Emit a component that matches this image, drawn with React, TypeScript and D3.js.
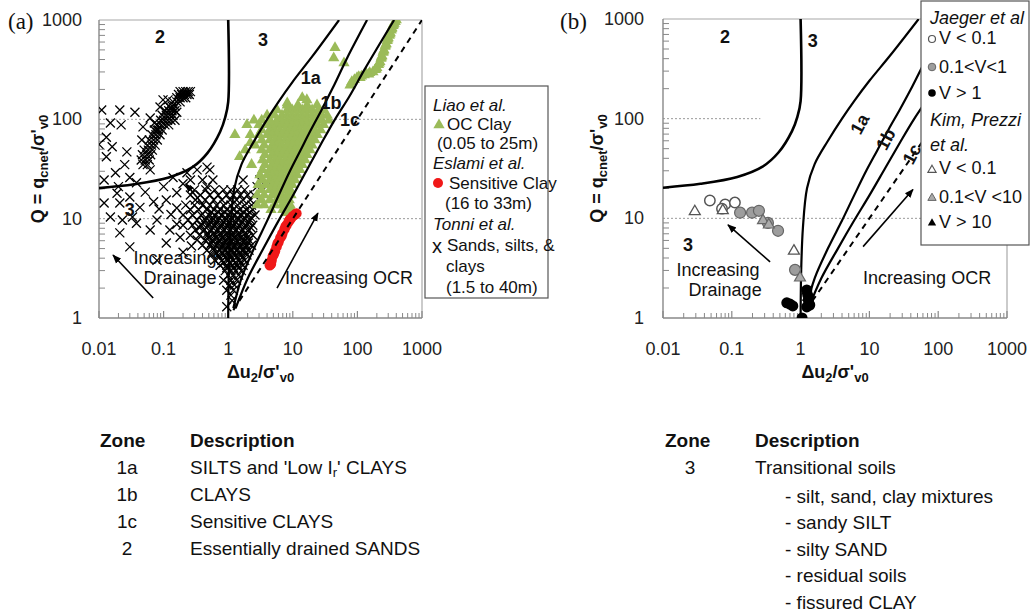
import React from "react";
import * as d3 from "d3";

type Pt = [number, number];
type Row = [number, number[]]; // [Q, list of Δu2/σ'v0 values read along that Q level]

const FONT = "'Liberation Sans', Arial, Helvetica, sans-serif";

// ---------- Panel (a) data: [Δu2/σ'v0, Q] ----------
// Tonni et al. — scattered points
const tonniScatter: Pt[] = [
  [0.011, 124], [0.015, 92], [0.022, 88], [0.013, 66], [0.016, 53], [0.027, 47], [0.013, 42],
  [0.018, 29], [0.03, 26], [0.038, 23], [0.048, 84], [0.079, 78], [0.046, 62], [0.098, 157],
  [0.117, 157], [0.088, 133], [0.062, 103], [0.036, 118], [0.021, 124], [0.01, 56], [0.025, 35],
  [0.062, 31], [0.012, 24.5], [0.02, 21], [0.15, 98], [0.13, 130], [0.16, 118], [0.072, 92],
  [0.012, 14.4], [0.021, 14.4], [0.03, 16.5], [0.015, 10.4], [0.023, 9.7], [0.033, 10.4],
  [0.043, 13], [0.021, 7.2], [0.03, 5.2], [0.038, 9.0], [0.062, 7.7], [0.079, 9.7], [0.11, 15.4],
  [0.16, 18.2], [0.14, 26], [0.23, 29], [0.33, 31], [0.47, 33], [0.58, 24.5], [0.26, 24.5],
  [0.47, 21], [0.11, 5.7], [0.18, 6.5], [0.125, 7.7], [0.079, 3.8], [0.019, 18], [0.052, 18.5],
  [0.085, 12.5], [0.1, 21], [0.13, 11], [0.16, 8.8], [0.2, 22.5], [0.4, 24.5], [0.52, 31],
  [1.7, 24.5], [3.1, 24.5], [3.9, 21], [2.8, 21], [1.15, 1.5], [0.95, 1.3], [0.2, 4.6],
  [0.27, 5.3], [0.16, 12.8], [0.07, 14.8],
];
// Tonni et al. — dense band in zone 2 (read level by level)
const tonniZone2Rows: Row[] = [
  [190, [0.18, 0.2, 0.22, 0.24, 0.26]],
  [178, [0.17, 0.19, 0.21, 0.23, 0.25]],
  [165, [0.16, 0.18, 0.2, 0.22]],
  [150, [0.14, 0.16, 0.18]],
  [136, [0.12, 0.135, 0.15]],
  [122, [0.105, 0.12, 0.135, 0.15]],
  [110, [0.095, 0.11, 0.125, 0.14]],
  [98, [0.09, 0.1, 0.115, 0.13]],
  [88, [0.08, 0.092, 0.105, 0.12]],
  [78, [0.072, 0.083, 0.095]],
  [70, [0.066, 0.076, 0.088]],
  [62, [0.06, 0.07, 0.08]],
  [55, [0.056, 0.065, 0.074]],
  [49, [0.05, 0.058, 0.067]],
  [44, [0.047, 0.055, 0.063]],
  [39, [0.045, 0.052, 0.06]],
  [35, [0.048, 0.056]],
];
// Tonni et al. — dense cluster around Δu2/σ'v0 ≈ 1
const tonniCoreRows: Row[] = [
  [19.5, [0.3, 0.45, 0.62, 0.85, 1.1, 1.4, 1.8]],
  [17.3, [0.26, 0.37, 0.52, 0.7, 0.95, 1.2, 1.55, 2.0, 2.5]],
  [15.4, [0.31, 0.44, 0.6, 0.8, 1.07, 1.35, 1.7, 2.2]],
  [13.7, [0.22, 0.3, 0.4, 0.52, 0.66, 0.85, 1.1, 1.4, 1.8, 2.3]],
  [12.3, [0.26, 0.35, 0.47, 0.6, 0.75, 0.95, 1.2, 1.5, 1.9, 2.4]],
  [11.6, [0.55, 0.7, 0.88, 1.1, 1.38, 1.72, 2.15]],
  [10.9, [0.2, 0.28, 0.38, 0.5, 0.62, 0.8, 1.0, 1.25, 1.6, 2.0, 2.6]],
  [10.3, [0.45, 0.57, 0.72, 0.9, 1.12, 1.4, 1.78, 2.25]],
  [9.7, [0.24, 0.33, 0.44, 0.56, 0.7, 0.9, 1.1, 1.4, 1.75, 2.2]],
  [9.2, [0.42, 0.53, 0.66, 0.84, 1.05, 1.3, 1.62, 2.05]],
  [8.6, [0.2, 0.28, 0.38, 0.5, 0.62, 0.78, 0.98, 1.2, 1.5, 1.9, 2.4]],
  [8.1, [0.36, 0.46, 0.58, 0.74, 0.92, 1.15, 1.42, 1.8, 2.25]],
  [7.7, [0.31, 0.42, 0.55, 0.7, 0.88, 1.1, 1.35, 1.7, 2.1]],
  [7.2, [0.48, 0.6, 0.76, 0.95, 1.18, 1.46, 1.85]],
  [6.8, [0.26, 0.36, 0.48, 0.62, 0.78, 0.98, 1.2, 1.5, 1.9, 2.4]],
  [6.4, [0.5, 0.64, 0.8, 1.0, 1.25, 1.55, 1.95]],
  [6.1, [0.33, 0.44, 0.57, 0.72, 0.9, 1.1, 1.35, 1.7, 2.1]],
  [5.7, [0.55, 0.7, 0.88, 1.08, 1.35, 1.7, 2.05]],
  [5.4, [0.4, 0.52, 0.66, 0.82, 1.0, 1.25, 1.55, 1.9, 2.3]],
  [5.1, [0.6, 0.78, 0.97, 1.2, 1.5, 1.85]],
  [4.8, [0.47, 0.6, 0.75, 0.92, 1.15, 1.4, 1.75, 2.1]],
  [4.55, [0.65, 0.82, 1.0, 1.22, 1.5, 1.85]],
  [4.3, [0.55, 0.7, 0.86, 1.05, 1.3, 1.6, 1.95]],
  [4.05, [0.72, 0.9, 1.1, 1.35, 1.65]],
  [3.8, [0.62, 0.8, 1.0, 1.2, 1.5, 1.8]],
  [3.6, [0.85, 1.05, 1.3, 1.55]],
  [3.4, [0.75, 0.95, 1.15, 1.4, 1.7]],
  [3.2, [0.95, 1.2, 1.45]],
  [3.0, [0.9, 1.1, 1.3, 1.6]],
  [2.7, [1.0, 1.2, 1.45]],
  [2.4, [0.85, 1.1, 1.35]],
  [2.15, [1.05, 1.25]],
  [1.9, [0.95, 1.2]],
  [1.7, [1.1]],
];

// Liao et al. — OC clay
const liaoScatter: Pt[] = [
  [45, 525], [43, 414], [62, 370], [8.2, 146], [16.5, 157], [14, 165], [1.95, 88], [1.27, 70],
  [1.5, 42], [2.2, 58], [2.5, 98], [2.2, 70], [1.83, 49], [2.3, 35], [2.6, 55],
];
const liaoCoreRows: Row[] = [
  [139, [8.2, 12, 16.6, 23.7]],
  [124, [5.7, 8.2, 9.8, 11.7, 14, 16.6, 19.9, 25, 30]],
  [110, [4.0, 5.2, 6.8, 8.2, 9.8, 11.7, 14, 16.6, 19.9, 23.7, 28, 34]],
  [98, [3.3, 4.4, 5.7, 6.8, 8.2, 9.8, 11.7, 14, 16.6, 19.9, 23.7, 28, 36]],
  [88, [3.0, 4.0, 4.8, 5.7, 6.8, 8.2, 9.8, 11.7, 14, 16.6, 19.9, 24, 30]],
  [78, [3.3, 4.4, 5.2, 6.3, 7.6, 9.1, 10.8, 12.9, 15.5, 18.5, 22, 27]],
  [70, [3.0, 4.0, 4.8, 5.7, 6.8, 8.2, 9.8, 11.7, 14, 16.6, 19.9, 24]],
  [62, [3.3, 4.4, 5.3, 6.3, 7.6, 9.1, 10.8, 12.9, 15.5, 18.5, 22]],
  [55, [3.6, 4.8, 5.7, 6.8, 8.2, 9.8, 11.7, 14, 16.6, 19.9]],
  [49, [3.3, 4.4, 5.3, 6.3, 7.6, 9.1, 10.8, 12.9, 15.5, 18.5]],
  [44, [3.7, 4.8, 5.7, 6.8, 8.2, 9.8, 11.7, 14, 16.6]],
  [39, [3.4, 4.4, 5.3, 6.3, 7.6, 9.1, 10.8, 12.9, 15.5]],
  [35, [3.7, 4.8, 5.7, 6.8, 8.2, 9.8, 11.7, 14]],
  [31, [3.4, 4.4, 5.3, 6.3, 7.6, 9.1, 10.8, 12.9]],
  [27.5, [3.1, 4.0, 4.8, 5.7, 6.8, 8.2, 9.8, 11.7]],
  [24.5, [3.4, 4.4, 5.3, 6.3, 7.6, 9.1, 10.8]],
  [22, [2.9, 3.8, 4.8, 5.7, 6.8, 8.2, 9.8]],
  [19.5, [3.3, 4.4, 5.3, 6.3, 7.6, 9.1]],
  [17.3, [2.8, 3.6, 4.8, 5.7, 6.8, 8.2, 9.4]],
  [15.4, [3.3, 4.4, 5.6, 6.3, 7.6, 8.8]],
  [13.7, [2.8, 3.6, 5.3, 6.8, 8.2, 9.1]],
  [12.3, [4.6, 7.0, 8.5, 9.6]],
  [11.5, [8.2, 9.4]],
];
const liaoDeepStrip: Pt[] = [
  [77, 221], [82, 239], [90, 250], [98.6, 262], [105, 268], [116, 272], [128, 280], [138, 288],
  [155, 295], [174, 300], [188, 315], [200, 330], [212, 355], [223, 380], [232, 410], [240, 435],
  [250, 470], [258, 500], [268, 540], [279, 575], [290, 620], [300, 660], [312, 700], [323, 740],
  [333, 790], [343, 830], [356, 875], [370, 920], [385, 960], [400, 1000], [110, 262], [150, 285],
  [195, 320], [218, 368], [236, 422], [254, 485], [273, 558], [295, 640], [318, 720], [338, 810],
  [362, 900],
];

const eslamiSensitive: Pt[] = [
  [4.4, 3.4], [4.7, 3.8], [4.9, 4.2], [5.3, 4.7], [5.6, 5.2], [6.0, 5.8], [6.4, 6.4], [6.9, 7.1],
  [7.4, 7.8], [8.0, 8.6], [8.6, 9.3], [9.3, 10.0], [10.0, 10.6], [10.8, 11.0], [11.4, 11.3],
  [4.6, 3.5], [5.1, 4.4], [5.8, 5.6], [6.7, 6.7], [7.7, 8.3], [9.0, 9.8],
];

// ---------- Panel (b) data ----------
const jaegerLow: Pt[] = [[0.048, 15.1], [0.08, 13.8], [0.111, 14.4], [0.072, 12.5]];
const jaegerMid: Pt[] = [[0.132, 11.4], [0.197, 11.4], [0.248, 11.9], [0.335, 9.0], [0.47, 7.5], [0.83, 3.04]];
const jaegerHigh: Pt[] = [
  [0.63, 1.42], [0.7, 1.38], [0.77, 1.32], [1.05, 1.0], [1.23, 1.91], [1.27, 1.7], [1.23, 1.29],
  [1.36, 1.35], [1.3, 1.5],
];
const kimLow: Pt[] = [[0.029, 11.7], [0.074, 12.0], [0.8, 4.7]];
const kimMid: Pt[] = [[0.284, 9.5], [0.345, 8.6], [0.98, 2.53]];
const kimHigh: Pt[] = [[1.23, 1.85], [1.25, 1.6]];

// ---------- Zone boundaries ----------
const zone2Line: Pt[] = [[1, 1000], [1, 150], [0.9, 105], [0.75, 75], [0.48, 46], [0.28, 33], [0.12, 26], [0.035, 22.2], [0.01, 20.3]];
const line1a: Pt[] = [[1, 1], [1.02, 3], [1.08, 8], [1.24, 20], [1.6, 35], [2.5, 60], [4, 100], [6, 150], [10, 240], [20, 430], [52, 1000]];
const line1b: Pt[] = [[1.2, 1.25], [1.6, 2.5], [2.5, 5], [4, 9.5], [6, 17], [9, 30], [13, 48], [19, 78], [28, 125], [42, 210], [70, 420], [141, 1000]];
const line1c: Pt[] = [[1.3, 1.25], [2, 2.5], [3.5, 5], [6, 9.5], [10, 17], [17, 32], [28, 58], [45, 100], [75, 170], [130, 320], [370, 1000]];
const bqOne: Pt[] = [[1.2, 1.2], [1000, 1000]];

const xTicks = [0.01, 0.1, 1, 10, 100, 1000];
const yTicks = [1, 10, 100, 1000];

const leftZones = [
  ["1a", "SILTS and 'Low I", "r", "' CLAYS"],
  ["1b", "CLAYS"],
  ["1c", "Sensitive CLAYS"],
  ["2", "Essentially drained SANDS"],
];
const rightZoneLines = [
  "- silt, sand, clay mixtures",
  "- sandy SILT",
  "- silty SAND",
  "- residual soils",
  "- fissured CLAY",
];

const fromRows = (rows: Row[]): Pt[] => rows.flatMap(([q, dus]) => dus.map((du) => [du, q] as Pt));
const tonniSands: Pt[] = [...tonniScatter, ...fromRows(tonniZone2Rows), ...fromRows(tonniCoreRows)];
const liaoOCClay: Pt[] = [...liaoScatter, ...fromRows(liaoCoreRows), ...liaoDeepStrip];

const GREEN = "#9bbb59";
const RED = "#f01818";
const AXIS = "#888";

type Scale = d3.ScaleLogarithmic<number, number>;

function Axes({ x, y, grid100End, labelGap }: { x: Scale; y: Scale; grid100End?: number; labelGap: number }) {
  const [x0, x1] = x.range();
  const [y0, y1] = y.range();
  const xMinor: number[] = [];
  for (let d = -2; d < 3; d++) for (let k = 2; k <= 9; k++) xMinor.push(k * Math.pow(10, d));
  const yMinor: number[] = [];
  for (let d = 0; d < 3; d++) for (let k = 2; k <= 9; k++) yMinor.push(k * Math.pow(10, d));
  return (
    <g>
      <line x1={x0} x2={x1} y1={y(10)} y2={y(10)} stroke="#9a9a9a" strokeWidth={1} strokeDasharray="2,2" />
      <line x1={x0} x2={grid100End !== undefined ? x(grid100End) : x1} y1={y(100)} y2={y(100)} stroke="#9a9a9a" strokeWidth={1} strokeDasharray="2,2" />
      <line x1={x0} x2={x1} y1={y1} y2={y1} stroke="#a8a8a8" strokeWidth={1.2} />
      <line x1={x1} x2={x1} y1={y1} y2={y0} stroke="#a8a8a8" strokeWidth={1.2} />
      <line x1={x0} x2={x0} y1={y1} y2={y0} stroke={AXIS} strokeWidth={1.4} />
      <line x1={x0} x2={x1} y1={y0} y2={y0} stroke={AXIS} strokeWidth={1.4} />
      {xMinor.map((v, i) => (
        <line key={"xm" + i} x1={x(v)} x2={x(v)} y1={y0} y2={y0 - 5} stroke={AXIS} strokeWidth={1} />
      ))}
      {xTicks.map((v, i) => (
        <line key={"xM" + i} x1={x(v)} x2={x(v)} y1={y0} y2={y0 - 7} stroke={AXIS} strokeWidth={1.2} />
      ))}
      {yMinor.map((v, i) => (
        <line key={"ym" + i} x1={x0} x2={x0 + 6} y1={y(v)} y2={y(v)} stroke={AXIS} strokeWidth={1} />
      ))}
      {xTicks.map((v, i) => (
        <text key={"xl" + i} x={x(v)} y={y0 + 31} textAnchor="middle" dominantBaseline="central" fontSize={18} fill="#222">
          {String(v)}
        </text>
      ))}
      {yTicks.map((v, i) => (
        <text key={"yl" + i} x={x0 - labelGap} y={y(v)} textAnchor="end" dominantBaseline="central" fontSize={18} fill="#222">
          {String(v)}
        </text>
      ))}
    </g>
  );
}

function Titles({ x, y, yTitleX }: { x: Scale; y: Scale; yTitleX: number }) {
  const [x0, x1] = x.range();
  const [y0, y1] = y.range();
  const cy = (y0 + y1) / 2;
  return (
    <g fontWeight="bold" fontSize={18} fill="#111">
      <text transform={`translate(${yTitleX},${cy}) rotate(-90)`} textAnchor="middle">
        Q = q<tspan fontSize={13} dy={4}>cnet</tspan>
        <tspan dy={-4}>/σ'</tspan>
        <tspan fontSize={13} dy={4}>v0</tspan>
      </text>
      <text x={(x0 + x1) / 2} y={y0 + 60} textAnchor="middle">
        Δu<tspan fontSize={13} dy={4}>2</tspan>
        <tspan dy={-4}>/σ'</tspan>
        <tspan fontSize={13} dy={4}>v0</tspan>
      </text>
    </g>
  );
}

function Boundaries({ x, y, clipId }: { x: Scale; y: Scale; clipId: string }) {
  const gen = d3
    .line<Pt>()
    .x((d) => x(d[0]))
    .y((d) => y(d[1]))
    .curve(d3.curveCatmullRom.alpha(0.5));
  return (
    <g clipPath={`url(#${clipId})`} fill="none" stroke="#000">
      <path d={gen(zone2Line) || ""} strokeWidth={2.6} />
      <path d={gen(line1a) || ""} strokeWidth={2.2} />
      <path d={gen(line1b) || ""} strokeWidth={2.2} />
      <path d={gen(line1c) || ""} strokeWidth={2.2} />
      <path d={d3.line<Pt>().x((d) => x(d[0])).y((d) => y(d[1]))(bqOne) || ""} strokeWidth={2} strokeDasharray="6,5" />
    </g>
  );
}

function Arrow({ x, y, from, to }: { x: Scale; y: Scale; from: Pt; to: Pt }) {
  return (
    <line x1={x(from[0])} y1={y(from[1])} x2={x(to[0])} y2={y(to[1])} stroke="#000" strokeWidth={1.6} markerEnd="url(#arrowHead)" />
  );
}

function Label({ x, y, at, text, bold, size, rotate }: { x: Scale; y: Scale; at: Pt; text: string; bold?: boolean; size?: number; rotate?: number }) {
  const px = x(at[0]);
  const py = y(at[1]);
  return (
    <text
      x={px}
      y={py}
      transform={rotate ? `rotate(${rotate},${px},${py})` : undefined}
      textAnchor="middle"
      dominantBaseline="central"
      fontWeight={bold ? "bold" : "normal"}
      fontSize={size || 18}
      fill="#111"
    >
      {text}
    </text>
  );
}

const crossPath = "M-4.5,-4.5L4.5,4.5M-4.5,4.5L4.5,-4.5";
const triPath = d3.symbol().type(d3.symbolTriangle).size(55)() || "";
const triB = d3.symbol().type(d3.symbolTriangle).size(52)() || "";
const triSmall = d3.symbol().type(d3.symbolTriangle).size(30)() || "";

export default function App() {
  const xa = d3.scaleLog().domain([0.01, 1000]).range([99, 422]);
  const ya = d3.scaleLog().domain([1, 1000]).range([318, 20]);
  const xb = d3.scaleLog().domain([0.01, 1000]).range([663, 1007]);
  const yb = d3.scaleLog().domain([1, 1000]).range([318, 19]);

  return (
    <div style={{ position: "absolute", left: 0, top: 0 }}>
      <svg width={1032} height={613} style={{ display: "block", background: "#fff" }} fontFamily={FONT}>
        <defs>
          <clipPath id="clipA">
            <rect x={99} y={20} width={323} height={298} />
          </clipPath>
          <clipPath id="clipB">
            <rect x={663} y={19} width={344} height={299} />
          </clipPath>
          <marker id="arrowHead" viewBox="0 0 10 10" refX={9} refY={5} markerWidth={9} markerHeight={9} markerUnits="userSpaceOnUse" orient="auto">
            <path d="M0,1 L10,5 L0,9 z" fill="#000" />
          </marker>
        </defs>

        {/* ---------------- Panel (a) ---------------- */}
        <text x={8} y={29} fontFamily="'Liberation Serif', 'Times New Roman', serif" fontSize={23} fill="#111">(a)</text>
        <Axes x={xa} y={ya} labelGap={17} />
        <g clipPath="url(#clipA)">
          {tonniSands.map((d, i) => (
            <path key={"t" + i} d={crossPath} transform={`translate(${xa(d[0])},${ya(d[1])})`} stroke="#000" strokeWidth={1.3} fill="none" />
          ))}
          {liaoOCClay.map((d, i) => (
            <path key={"l" + i} d={triPath} transform={`translate(${xa(d[0])},${ya(d[1])})`} fill={GREEN} />
          ))}
          {eslamiSensitive.map((d, i) => (
            <circle key={"e" + i} cx={xa(d[0])} cy={ya(d[1])} r={5.2} fill={RED} />
          ))}
        </g>
        <Boundaries x={xa} y={ya} clipId="clipA" />
        <Arrow x={xa} y={ya} from={[0.069, 1.59]} to={[0.0165, 4.3]} />
        <Arrow x={xa} y={ya} from={[0.56, 10.9]} to={[0.22, 22.4]} />
        <Arrow x={xa} y={ya} from={[5.7, 2.0]} to={[24.5, 11.4]} />
        <Label x={xa} y={ya} at={[0.088, 676]} text="2" bold />
        <Label x={xa} y={ya} at={[3.46, 630]} text="3" bold />
        <Label x={xa} y={ya} at={[0.03, 12.2]} text="3" bold />
        <Label x={xa} y={ya} at={[19, 261]} text="1a" bold />
        <Label x={xa} y={ya} at={[39, 146]} text="1b" bold />
        <Label x={xa} y={ya} at={[77, 99]} text="1c" bold />
        <Label x={xa} y={ya} at={[0.15, 4.0]} text="Increasing" />
        <Label x={xa} y={ya} at={[0.18, 2.5]} text="Drainage" />
        <Label x={xa} y={ya} at={[74, 2.5]} text="Increasing OCR" />
        <Titles x={xa} y={ya} yTitleX={44} />

        {/* legend (a) */}
        <g fontSize={17} fill="#111">
          <rect x={425} y={86} width={123} height={212} fill="#fff" stroke="#555" strokeWidth={1.2} />
          <text x={433} y={105} dominantBaseline="central" fontStyle="italic">Liao et al.</text>
          <path d={triPath} transform="translate(439,125)" fill={GREEN} />
          <text x={447} y={124} dominantBaseline="central">OC Clay</text>
          <text x={437} y={143} dominantBaseline="central">(0.05 to 25m)</text>
          <text x={433} y={163} dominantBaseline="central" fontStyle="italic">Eslami et al.</text>
          <circle cx={438} cy={183} r={5} fill={RED} />
          <text x={449} y={183} dominantBaseline="central">Sensitive Clay</text>
          <text x={445} y={203} dominantBaseline="central">(16 to 33m)</text>
          <text x={433} y={224} dominantBaseline="central" fontStyle="italic">Tonni et al.</text>
          <text x={432} y={246} dominantBaseline="central" fontSize={20}>x</text>
          <text x={447} y={245} dominantBaseline="central">Sands, silts, &amp;</text>
          <text x={446} y={266} dominantBaseline="central">clays</text>
          <text x={446} y={287} dominantBaseline="central">(1.5 to 40m)</text>
        </g>

        {/* ---------------- Panel (b) ---------------- */}
        <text x={560} y={29} fontFamily="'Liberation Serif', 'Times New Roman', serif" fontSize={23} fill="#111">(b)</text>
        <Axes x={xb} y={yb} grid100End={0.26} labelGap={19} />
        <Boundaries x={xb} y={yb} clipId="clipB" />
        <g clipPath="url(#clipB)">
          {jaegerLow.map((d, i) => (
            <circle key={"jl" + i} cx={xb(d[0])} cy={yb(d[1])} r={5.2} fill="#fff" stroke="#555" strokeWidth={1.5} />
          ))}
          {jaegerMid.map((d, i) => (
            <circle key={"jm" + i} cx={xb(d[0])} cy={yb(d[1])} r={5.5} fill="#9d9d9d" stroke="#666" strokeWidth={1.2} />
          ))}
          {jaegerHigh.map((d, i) => (
            <circle key={"jh" + i} cx={xb(d[0])} cy={yb(d[1])} r={5.5} fill="#000" />
          ))}
          {kimLow.map((d, i) => (
            <path key={"kl" + i} d={triB} transform={`translate(${xb(d[0])},${yb(d[1])})`} fill="#fff" stroke="#555" strokeWidth={1.3} />
          ))}
          {kimMid.map((d, i) => (
            <path key={"km" + i} d={triB} transform={`translate(${xb(d[0])},${yb(d[1])})`} fill="#aaa" stroke="#666" strokeWidth={1.2} />
          ))}
          {kimHigh.map((d, i) => (
            <path key={"kh" + i} d={triB} transform={`translate(${xb(d[0])},${yb(d[1])})`} fill="#000" />
          ))}
        </g>
        <Arrow x={xb} y={yb} from={[0.36, 3.66]} to={[0.088, 8.6]} />
        <Arrow x={xb} y={yb} from={[8.1, 5.2]} to={[43, 19.5]} />
        <Label x={xb} y={yb} at={[0.08, 660]} text="2" bold />
        <Label x={xb} y={yb} at={[1.5, 600]} text="3" bold />
        <Label x={xb} y={yb} at={[0.023, 5.4]} text="3" bold />
        <Label x={xb} y={yb} at={[7.3, 88]} text="1a" bold rotate={-62} />
        <Label x={xb} y={yb} at={[17.4, 62]} text="1b" bold rotate={-62} />
        <Label x={xb} y={yb} at={[41.7, 44]} text="1c" bold rotate={-62} />
        <Label x={xb} y={yb} at={[0.063, 3.0]} text="Increasing" />
        <Label x={xb} y={yb} at={[0.08, 1.9]} text="Drainage" />
        <Label x={xb} y={yb} at={[69, 2.5]} text="Increasing OCR" />
        <Titles x={xb} y={yb} yTitleX={603} />

        {/* legend (b) */}
        <g fontSize={18} fill="#111">
          <rect x={921} y={1} width={108} height={244} fill="#fff" stroke="#555" strokeWidth={1.2} />
          <text x={930} y={18} dominantBaseline="central" fontStyle="italic">Jaeger et al</text>
          <circle cx={932} cy={39} r={3.5} fill="#fff" stroke="#555" strokeWidth={1.2} />
          <text x={939} y={38} dominantBaseline="central">V &lt; 0.1</text>
          <circle cx={932} cy={67} r={3.8} fill="#9d9d9d" stroke="#666" strokeWidth={1} />
          <text x={939} y={67} dominantBaseline="central">0.1&lt;V&lt;1</text>
          <circle cx={932} cy={93} r={3.8} fill="#000" />
          <text x={939} y={93} dominantBaseline="central">V &gt; 1</text>
          <text x={930} y={120} dominantBaseline="central" fontStyle="italic">Kim, Prezzi</text>
          <text x={930} y={145} dominantBaseline="central" fontStyle="italic">et al.</text>
          <path d={triSmall} transform="translate(932,170)" fill="#fff" stroke="#555" strokeWidth={1.1} />
          <text x={939} y={168} dominantBaseline="central">V &lt; 0.1</text>
          <path d={triSmall} transform="translate(932,198)" fill="#aaa" stroke="#666" strokeWidth={1} />
          <text x={939} y={197} dominantBaseline="central">0.1&lt;V &lt;10</text>
          <path d={triSmall} transform="translate(932,223)" fill="#000" />
          <text x={939} y={222} dominantBaseline="central">V &gt; 10</text>
        </g>

        {/* ---------------- Zone tables ---------------- */}
        <g fontSize={19} fill="#111">
          <text x={100} y={440} dominantBaseline="central" fontWeight="bold">Zone</text>
          <text x={190} y={440} dominantBaseline="central" fontWeight="bold">Description</text>
          {leftZones.map((row, i) => (
            <g key={"lz" + i}>
              <text x={127} y={467 + i * 27} textAnchor="middle" dominantBaseline="central">{row[0]}</text>
              <text x={190} y={467 + i * 27} dominantBaseline="central">
                {row[1]}
                {row.length > 2 ? (
                  <>
                    <tspan fontSize={13} dy={5}>{row[2]}</tspan>
                    <tspan dy={-5}>{row[3]}</tspan>
                  </>
                ) : null}
              </text>
            </g>
          ))}
          <text x={665} y={440} dominantBaseline="central" fontWeight="bold">Zone</text>
          <text x={755} y={440} dominantBaseline="central" fontWeight="bold">Description</text>
          <text x={690} y={467} textAnchor="middle" dominantBaseline="central">3</text>
          <text x={755} y={467} dominantBaseline="central">Transitional soils</text>
          {rightZoneLines.map((s, i) => (
            <text key={"rz" + i} x={785} y={496 + i * 26.5} dominantBaseline="central">{s}</text>
          ))}
        </g>
      </svg>
    </div>
  );
}
